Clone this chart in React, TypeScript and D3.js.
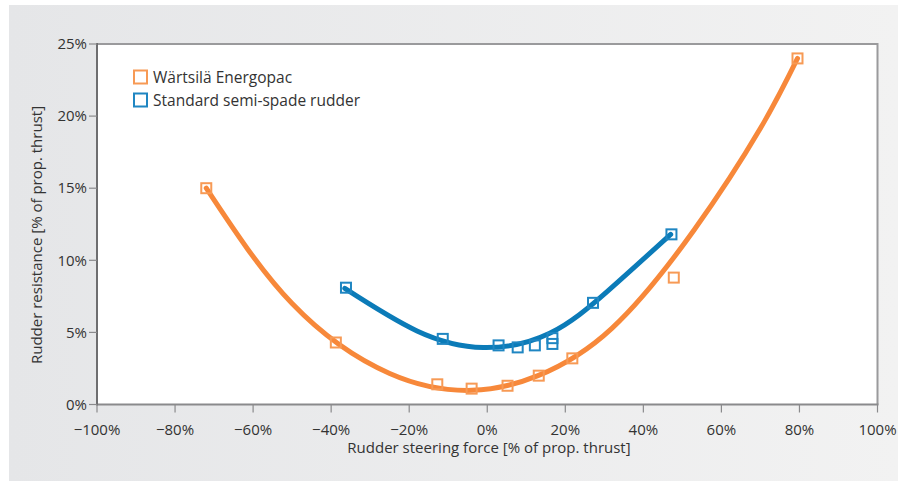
import React from "react";
import * as d3 from "d3";

const xTicks = [-100, -80, -60, -40, -20, 0, 20, 40, 60, 80, 100];
const yTicks = [0, 5, 10, 15, 20, 25];

// Measured points
const energopacX = [-72, -38.8, -12.8, -4, 5.2, 13.2, 21.8, 47.8, 79.5];
const energopacY = [15.0, 4.3, 1.4, 1.1, 1.3, 2.0, 3.2, 8.8, 24.0];
const standardX = [-36.2, -11.4, 2.9, 7.8, 12.2, 16.7, 16.7, 27.1, 47.2];
const standardY = [8.1, 4.55, 4.1, 3.96, 4.1, 4.2, 4.6, 7.05, 11.8];

// Fitted trend curves
const energopacCurveX = [-72, -50, -25, -4, 13, 32, 53, 70, 79.5];
const energopacCurveY = [15.0, 7.0, 2.15, 0.98, 2.0, 5.3, 12.1, 19.15, 24.0];
const standardCurveX = [-36.5, -18, -1, 16, 31, 47];
const standardCurveY = [8.05, 5.1, 3.95, 4.94, 7.9, 11.8];

const ORANGE = "#f7883a";
const ORANGE_MK = "#f79a55";
const BLUE = "#0b7bb8";
const BLUE_MK = "#1f86c2";
const TEXT = "#333";
const FONT = "'Open Sans', 'Liberation Sans', sans-serif";

export default function App() {
  const W = 898, H = 481;
  const left = 97, right = 877.5, top = 44, bottom = 404.5;
  const x = d3.scaleLinear().domain([-100, 100]).range([left, right]);
  const y = d3.scaleLinear().domain([0, 25]).range([bottom, top]);
  const line = d3
    .line<[number, number]>()
    .x((d) => x(d[0]))
    .y((d) => y(d[1]))
    .curve(d3.curveNatural);
  const oCurve = energopacCurveX.map((v, i) => [v, energopacCurveY[i]] as [number, number]);
  const bCurve = standardCurveX.map((v, i) => [v, standardCurveY[i]] as [number, number]);
  const ms = 10;
  const xLabel = (v: number) => (v < 0 ? "\u2212" + Math.abs(v) : String(v)) + "%";

  return (
    <svg width={W} height={H} style={{ position: "absolute", left: 0, top: 0 }} fontFamily={FONT}>
      <defs>
        <linearGradient id="bg" x1="0" x2="1" y1="0" y2="0">
          <stop offset="0" stopColor="#e5e6e8" />
          <stop offset="1" stopColor="#f2f2f2" />
        </linearGradient>
      </defs>
      <rect x={0} y={0} width={W} height={H} fill="#fff" />
      <rect x={9} y={5} width={W - 9} height={H - 5} fill="url(#bg)" />
      <rect x={left} y={top} width={right - left} height={bottom - top} fill="#fff" />
      {/* frame */}
      <line x1={left} x2={right} y1={top} y2={top} stroke="#9a9a9c" strokeWidth={2} />
      <line x1={right} x2={right} y1={top - 1} y2={bottom} stroke="#9a9a9c" strokeWidth={2} />
      <line x1={left} x2={right + 1} y1={bottom} y2={bottom} stroke="#8a8a8c" strokeWidth={2} />
      <line x1={left} x2={left} y1={top - 1} y2={bottom + 1} stroke="#6e6e70" strokeWidth={2} />
      {/* y ticks */}
      {yTicks.map((t) => (
        <g key={"y" + t}>
          <line x1={left - 8} x2={left} y1={y(t)} y2={y(t)} stroke="#8a8a8c" strokeWidth={1.2} />
          <text x={left - 10} y={y(t)} dy="0.35em" textAnchor="end" fontSize={15} fill={TEXT}>
            {t + "%"}
          </text>
        </g>
      ))}
      {/* x ticks */}
      {xTicks.map((t) => (
        <g key={"x" + t}>
          <line x1={x(t)} x2={x(t)} y1={bottom} y2={bottom + 8} stroke="#8a8a8c" strokeWidth={1.2} />
          <text x={x(t)} y={434.5} textAnchor="middle" fontSize={15} fill={TEXT}>
            {xLabel(t)}
          </text>
        </g>
      ))}
      <text x={489} y={453} textAnchor="middle" fontSize={15} fill={TEXT}>
        Rudder steering force [% of prop. thrust]
      </text>
      <text
        transform={`translate(42,235) rotate(-90)`}
        textAnchor="middle"
        fontSize={15}
        fill={TEXT}
      >
        Rudder resistance [% of prop. thrust]
      </text>
      {/* curves */}
      <path d={line(oCurve) || ""} fill="none" stroke={ORANGE} strokeWidth={5} strokeLinecap="round" />
      <path d={line(bCurve) || ""} fill="none" stroke={BLUE} strokeWidth={5} strokeLinecap="round" />
      {/* markers */}
      {energopacX.map((v, i) => (
        <rect key={"o" + i} x={x(v) - ms / 2} y={y(energopacY[i]) - ms / 2} width={ms} height={ms} fill="none" stroke={ORANGE_MK} strokeWidth={2} />
      ))}
      {standardX.map((v, i) => (
        <rect key={"b" + i} x={x(v) - ms / 2} y={y(standardY[i]) - ms / 2} width={ms} height={ms} fill="none" stroke={BLUE_MK} strokeWidth={2} />
      ))}
      {/* legend */}
      <rect x={134} y={70.5} width={13} height={13} fill="none" stroke={ORANGE_MK} strokeWidth={2} />
      <text x={153} y={82.5} fontSize={15.5} fill={TEXT}>Wärtsilä Energopac</text>
      <rect x={134} y={93.5} width={13} height={13} fill="none" stroke={BLUE_MK} strokeWidth={2} />
      <text x={153} y={105.5} fontSize={15.5} fill={TEXT}>Standard semi-spade rudder</text>
    </svg>
  );
}
